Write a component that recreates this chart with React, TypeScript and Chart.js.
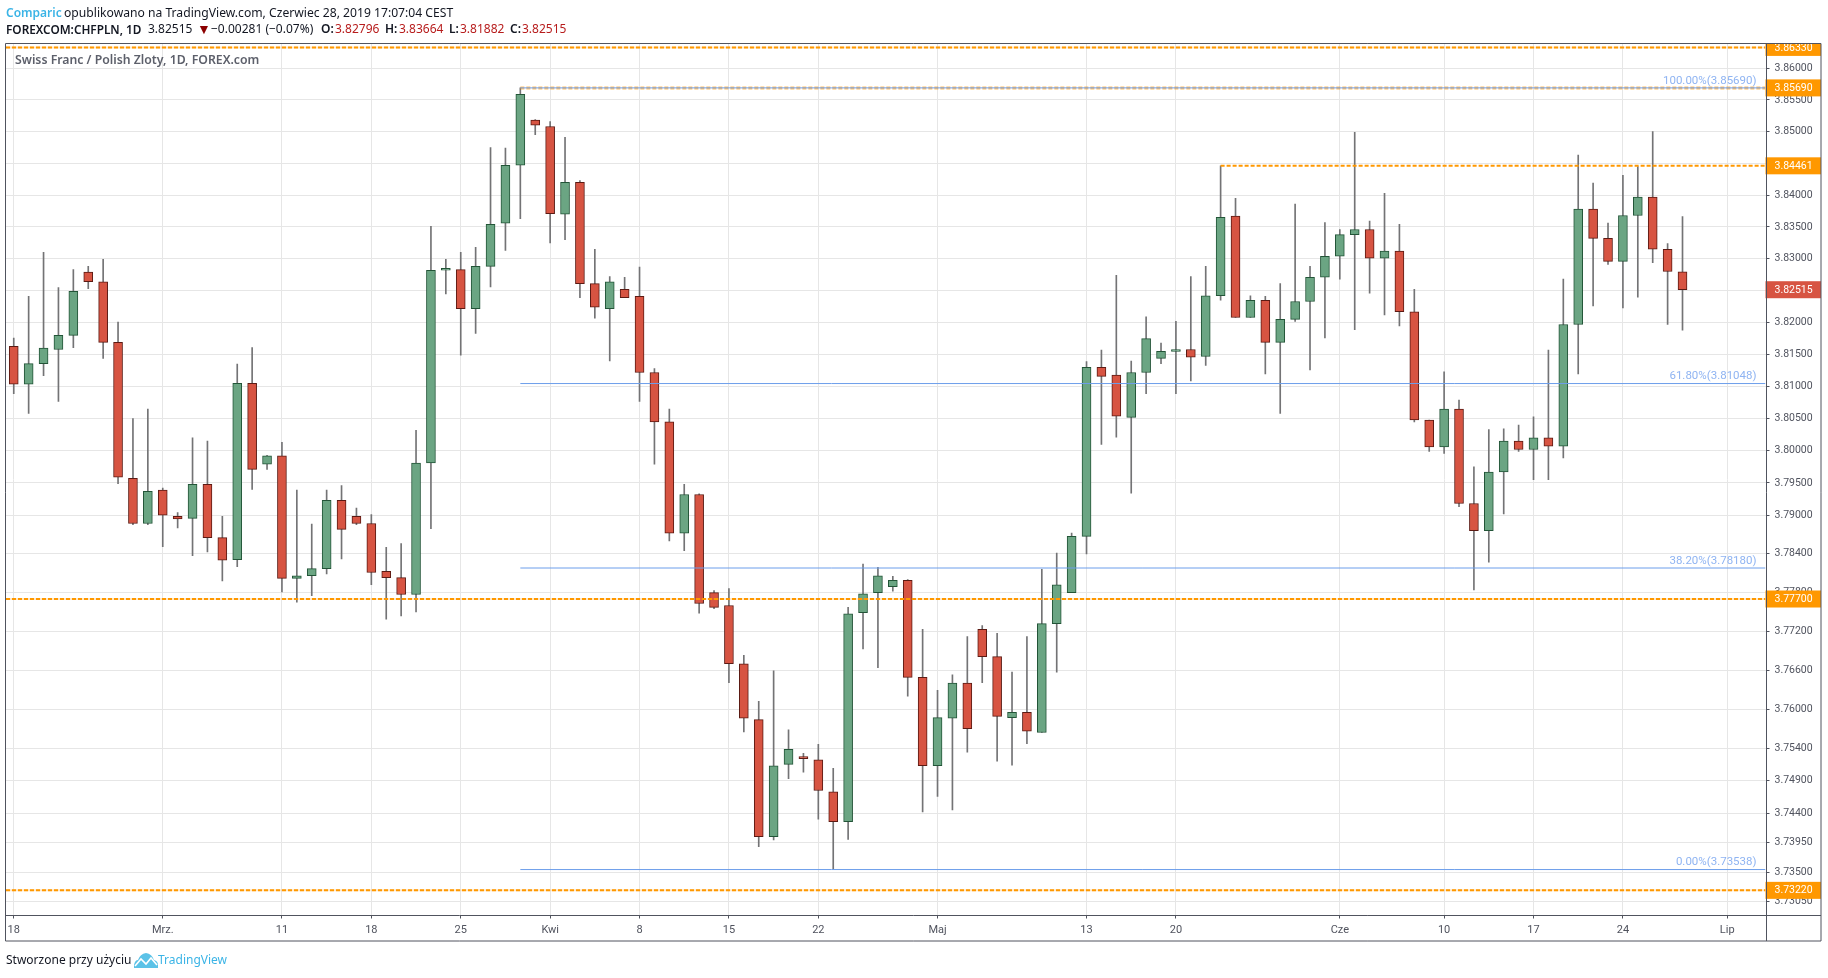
import React, { useEffect, useRef } from "react";
import { Chart, registerables } from "chart.js";

Chart.register(...registerables);

const opens = [3.8163,3.8104,3.8136,3.8158,3.8180,3.8279,3.8264,3.8169,3.7957,3.7887,3.7939,3.7898,3.7895,3.7948,3.7865,3.7831,3.8105,3.7979,3.7992,3.7802,3.7806,3.7817,3.7923,3.7898,3.7887,3.7813,3.7803,3.7777,3.7981,3.8282,3.8283,3.8222,3.8288,3.8356,3.8447,3.8518,3.8508,3.8370,3.8420,3.8261,3.8222,3.8252,3.8241,3.8122,3.8045,3.7872,3.7932,3.7780,3.7760,3.7670,3.7584,3.7404,3.7515,3.7527,3.7522,3.7473,3.7427,3.7749,3.7780,3.7789,3.7799,3.7649,3.7513,3.7586,3.7640,3.7723,3.7681,3.7587,3.7595,3.7564,3.7732,3.7780,3.7867,3.8130,3.8118,3.8052,3.8122,3.8144,3.8155,3.8158,3.8147,3.8242,3.8367,3.8208,3.8235,3.8169,3.8205,3.8233,3.8271,3.8304,3.8338,3.8346,3.8301,3.8312,3.8217,3.8048,3.8006,3.8065,3.7918,3.7876,3.7967,3.8015,3.8002,3.8020,3.8007,3.8197,3.8378,3.8332,3.8296,3.8368,3.8397,3.8315,3.82796];
const highs = [3.8176,3.8241,3.8310,3.8255,3.8283,3.8288,3.8299,3.8201,3.8050,3.8065,3.7942,3.7904,3.8020,3.8015,3.7898,3.8135,3.8161,3.7993,3.8013,3.7939,3.7886,3.7939,3.7946,3.7911,3.7901,3.7850,3.7856,3.8032,3.8351,3.8299,3.8310,3.8318,3.8475,3.8474,3.8569,3.8519,3.8516,3.8491,3.8423,3.8315,3.8272,3.8271,3.8287,3.8128,3.8065,3.7948,3.7933,3.7783,3.7786,3.7683,3.7612,3.7659,3.7568,3.7532,3.7546,3.7509,3.7757,3.7824,3.7819,3.7805,3.7800,3.7723,3.7629,3.7653,3.7712,3.7729,3.7717,3.7657,3.7712,3.7816,3.7841,3.7872,3.8139,3.8157,3.8274,3.8140,3.8209,3.8168,3.8202,3.8272,3.8288,3.84461,3.8395,3.8242,3.8241,3.8261,3.8386,3.8288,3.8357,3.8346,3.8499,3.8359,3.8403,3.8354,3.8252,3.8048,3.8123,3.8079,3.7975,3.8033,3.8034,3.8040,3.8053,3.8157,3.8268,3.8463,3.8419,3.8356,3.8431,3.8445,3.8500,3.8324,3.83664];
const lows = [3.8089,3.8058,3.8117,3.8077,3.8161,3.8253,3.8144,3.7949,3.7885,3.7885,3.7851,3.7880,3.7837,3.7843,3.7798,3.7820,3.7940,3.7971,3.7781,3.7765,3.7775,3.7809,3.7832,3.7885,3.7792,3.7739,3.7744,3.7750,3.7879,3.8245,3.8149,3.8183,3.8256,3.8313,3.8363,3.8495,3.8325,3.8330,3.8239,3.8207,3.8140,3.8239,3.8077,3.7979,3.7860,3.7845,3.7748,3.7755,3.7641,3.7565,3.7389,3.7399,3.7493,3.7503,3.7431,3.73538,3.7400,3.7693,3.7664,3.7782,3.7620,3.7442,3.7466,3.7445,3.7534,3.7641,3.7520,3.7514,3.7547,3.7564,3.7657,3.7780,3.7840,3.8010,3.8021,3.7934,3.8089,3.8136,3.8089,3.8109,3.8133,3.8235,3.8208,3.8208,3.8120,3.8058,3.8202,3.8126,3.8176,3.8268,3.8189,3.8246,3.8212,3.8195,3.8045,3.7999,3.7996,3.7913,3.7784,3.7827,3.7902,3.7999,3.7955,3.7955,3.7989,3.8120,3.8226,3.8291,3.8223,3.8240,3.8294,3.8197,3.81882];
const closes = [3.8104,3.8136,3.8160,3.8180,3.8249,3.8264,3.8169,3.7959,3.7887,3.7937,3.7900,3.7894,3.7948,3.7865,3.7830,3.8105,3.7971,3.7992,3.7802,3.7806,3.7817,3.7923,3.7878,3.7887,3.7811,3.7803,3.7777,3.7981,3.8282,3.8285,3.8222,3.8288,3.8354,3.8447,3.8559,3.8510,3.8371,3.8420,3.8261,3.8224,3.8264,3.8239,3.8122,3.8045,3.7872,3.7932,3.7763,3.7757,3.7670,3.7586,3.7404,3.7513,3.7538,3.7524,3.7475,3.7427,3.7747,3.7778,3.7806,3.7799,3.7649,3.7513,3.7587,3.7640,3.7570,3.7681,3.7589,3.7595,3.7566,3.7732,3.7792,3.7867,3.8130,3.8116,3.8054,3.8122,3.8175,3.8155,3.8158,3.8146,3.8242,3.8365,3.8208,3.8235,3.8169,3.8205,3.8233,3.8271,3.8304,3.8338,3.8346,3.8301,3.8312,3.8217,3.8048,3.8006,3.8065,3.7918,3.7876,3.7967,3.8015,3.8002,3.8020,3.8007,3.8197,3.8378,3.8332,3.8296,3.8368,3.8397,3.8315,3.8280,3.82515];

const xTickBars = [0, 10, 18, 24, 30, 36, 42, 48, 54, 62, 72, 78, 89, 96, 102, 108, 115];
const xTickLabels = ["18", "Mrz.", "11", "18", "25", "Kwi", "8", "15", "22", "Maj", "13", "20", "Cze", "10", "17", "24", "Lip"];
const priceTicks = [3.86, 3.855, 3.85, 3.845, 3.84, 3.835, 3.83, 3.825, 3.82, 3.815, 3.81, 3.805, 3.8, 3.795, 3.79, 3.784, 3.778, 3.772, 3.766, 3.76, 3.754, 3.749, 3.744, 3.7395, 3.735, 3.7305];

const fibLevels = [3.8569, 3.81048, 3.7818, 3.73538];
const fibLabels = ["100.00%(3.85690)", "61.80%(3.81048)", "38.20%(3.78180)", "0.00%(3.73538)"];
const fibStartBar = 34;
const fullLevels = [3.8633, 3.777, 3.7322];
const partialLevels = [3.8569, 3.84461];
const partialStartBars = [34, 81];
const lastPrice = 3.82515;

const X_MIN = -0.52;
const X_MAX = 117.57;
const Y_MIN = 3.72851;
const Y_MAX = 3.86384;

const UP = "#6ba583";
const UP_BORDER = "#225437";
const DOWN = "#d75442";
const DOWN_BORDER = "#5b1a13";
const WICK = "#737375";
const FRAME = "#50535e";
const ORANGE = "#ff9800";
const BLUE = "#6d9eeb";
const AXIS_FONT = "Roboto";
const TEXT_FONT = "'Noto Sans'";

const bars = closes.map((c, i) => ({ i, o: opens[i], h: highs[i], l: lows[i], c }));
const upBars = bars.filter((b) => b.c >= b.o);
const downBars = bars.filter((b) => b.c < b.o);

const overlay = {
  id: "overlay",
  afterDraw(chart: any) {
    const { ctx, chartArea: a, scales } = chart;
    const y = scales.y;
    const outerRight = 1821;
    const outerBottom = 941;
    ctx.save();
    ctx.font = `11.5px ${AXIS_FONT}`;
    ctx.textAlign = "right";
    ctx.textBaseline = "middle";
    ctx.fillStyle = "#8fb4f2";
    fibLevels.forEach((v, i) => {
      ctx.fillText(fibLabels[i], a.right - 9, y.getPixelForValue(v) - 7);
    });
    ctx.beginPath();
    ctx.rect(a.left, a.top, outerRight - a.left, a.bottom - a.top);
    ctx.clip();
    const badges = [
      ...fullLevels.map((v) => ({ v, c: ORANGE })),
      ...partialLevels.map((v) => ({ v, c: ORANGE })),
      { v: lastPrice, c: DOWN },
    ];
    ctx.font = `10.5px ${AXIS_FONT}`;
    ctx.textAlign = "left";
    badges.forEach((b) => {
      const py = y.getPixelForValue(b.v);
      ctx.fillStyle = b.c;
      ctx.fillRect(a.right, py - 8.5, outerRight - a.right, 17);
      ctx.fillStyle = "#ffffff";
      ctx.fillText(b.v.toFixed(5), a.right + 9, py + 0.5);
    });
    ctx.restore();
    ctx.save();
    ctx.strokeStyle = FRAME;
    ctx.lineWidth = 1;
    ctx.beginPath();
    ctx.rect(5.5, 43.5, outerRight - 5.5, outerBottom - 43.5);
    ctx.moveTo(Math.round(a.right) + 0.5, 43.5);
    ctx.lineTo(Math.round(a.right) + 0.5, outerBottom);
    ctx.moveTo(5.5, Math.round(a.bottom) + 0.5);
    ctx.lineTo(outerRight, Math.round(a.bottom) + 0.5);
    ctx.stroke();
    ctx.restore();
  },
};

function lineSet(points: any[], color: string, dash: number[], width: number, order: number) {
  return {
    type: "line",
    data: points,
    borderColor: color,
    borderWidth: width,
    borderDash: dash,
    pointRadius: 0,
    fill: false,
    tension: 0,
    order,
  };
}

function App() {
  const ref = useRef<HTMLCanvasElement>(null);
  useEffect(() => {
    document.body.style.margin = "0";
    const chart = new Chart(ref.current as HTMLCanvasElement, {
      type: "bar",
      data: {
        datasets: [
          {
            data: bars.map((b) => ({ x: b.i, y: [b.l, b.h] })),
            backgroundColor: WICK,
            barThickness: 1,
            grouped: false,
            order: 5,
          },
          {
            data: upBars.map((b) => ({ x: b.i, y: [b.o, b.c] })),
            backgroundColor: UP,
            borderColor: UP_BORDER,
            borderWidth: 1,
            borderSkipped: false,
            barThickness: 9,
            grouped: false,
            order: 4,
          },
          {
            data: downBars.map((b) => ({ x: b.i, y: [b.c, b.o] })),
            backgroundColor: DOWN,
            borderColor: DOWN_BORDER,
            borderWidth: 1,
            borderSkipped: false,
            barThickness: 9,
            grouped: false,
            order: 4,
          },
          ...fullLevels.map((v) =>
            lineSet([{ x: X_MIN, y: v }, { x: X_MAX, y: v }], "rgba(255,152,0,0.22)", [], 2, 3)
          ),
          ...fullLevels.map((v) =>
            lineSet([{ x: X_MIN, y: v }, { x: X_MAX, y: v }], ORANGE, [4, 2], 2, 2)
          ),
          ...partialLevels.map((v, i) =>
            lineSet(
              [{ x: partialStartBars[i], y: v }, { x: X_MAX, y: v }],
              i === 0 ? "rgba(255,152,0,0.6)" : ORANGE,
              [4, 2],
              i === 0 ? 3 : 2,
              2
            )
          ),
          ...fibLevels.map((v) =>
            lineSet([{ x: fibStartBar, y: v }, { x: X_MAX, y: v }], BLUE, [], 1, 1)
          ),
        ] as any,
      },
      options: {
        animation: false,
        responsive: false,
        devicePixelRatio: 1,
        layout: { padding: { left: 6, right: 7, top: 44, bottom: 37 } },
        plugins: { legend: { display: false }, tooltip: { enabled: false }, title: { display: false } },
        scales: {
          x: {
            type: "linear",
            min: X_MIN,
            max: X_MAX,
            bounds: "data",
            offset: false,
            grid: { offset: false, color: "#e6e6e6", tickColor: FRAME, tickLength: 4, drawOnChartArea: true },
            border: { display: false },
            afterBuildTicks: (s: any) => {
              s.ticks = xTickBars.map((v) => ({ value: v }));
            },
            afterFit: (s: any) => {
              s.height = 26.5;
            },
            ticks: {
              autoSkip: false,
              maxRotation: 0,
              padding: 5,
              color: "#50535e",
              font: { family: AXIS_FONT, size: 11 },
              callback: (v: any) => xTickLabels[xTickBars.indexOf(v)] ?? "",
            },
          },
          y: {
            type: "logarithmic",
            position: "right",
            min: Y_MIN,
            max: Y_MAX,
            bounds: "data",
            grid: { color: "#e6e6e6", tickColor: FRAME, tickLength: 4 },
            border: { display: false },
            afterBuildTicks: (s: any) => {
              s.ticks = priceTicks.map((v) => ({ value: v }));
            },
            afterFit: (s: any) => {
              s.width = 55.5;
            },
            ticks: {
              autoSkip: false,
              padding: 5,
              color: "#50535e",
              font: { family: AXIS_FONT, size: 10.5 },
              callback: (v: any) => Number(v).toFixed(5),
            },
          },
        },
      } as any,
      plugins: [overlay],
    });
    return () => chart.destroy();
  }, []);

  const seg = (left: number, top: number, text: string, extra: any = {}) => (
    <span style={{ position: "absolute", left, top, whiteSpace: "nowrap", lineHeight: "16px", ...extra }}>{text}</span>
  );
  const red = { color: "#b71c1c" };
  const blue = { color: "#3bb4e6" };

  return (
    <div
      style={{
        position: "absolute",
        left: 0,
        top: 0,
        width: 1828,
        height: 978,
        overflow: "hidden",
        background: "#fff",
        fontFamily: TEXT_FONT,
        fontSize: 12,
        color: "#131722",
      }}
    >
      <canvas ref={ref} width={1828} height={978} style={{ display: "block", position: "absolute", left: 0, top: 0 }} />
      {seg(6, 5, "Comparic", { ...blue, fontWeight: 600 })}
      {seg(64, 5, "opublikowano na TradingView.com, Czerwiec 28, 2019 17:07:04 CEST", { fontSize: 12.15 })}
      {seg(6, 21, "FOREXCOM:CHFPLN, 1D", { fontWeight: 600, fontSize: 11.8 })}
      {seg(148, 21, "3.82515")}
      {seg(197, 21, "▼", { color: "#8b0000", fontSize: 14 })}
      {seg(211, 21, "−0.00281 (−0.07%)")}
      {seg(321, 21, "O:", { fontWeight: 600 })}
      {seg(335, 21, "3.82796", red)}
      {seg(385, 21, "H:", { fontWeight: 600 })}
      {seg(399, 21, "3.83664", red)}
      {seg(449, 21, "L:", { fontWeight: 600 })}
      {seg(460, 21, "3.81882", red)}
      {seg(510, 21, "C:", { fontWeight: 600 })}
      {seg(522, 21, "3.82515", red)}
      {seg(15, 52, "Swiss Franc / Polish Zloty, 1D, FOREX.com", { color: "#5d606b", fontWeight: 600, fontSize: 12.25 })}
      {seg(6, 952, "Stworzone przy użyciu")}
      <svg style={{ position: "absolute", left: 134, top: 953 }} width="24" height="15" viewBox="0 0 24 15">
        <path d="M0 15 L0 12 Q1 7 4 7 Q6 1 12 0 Q18 1 20 7 Q24 8 24 12 L24 15 Z" fill="#5bc2e7" />
        <path d="M1 13 L7 6 L12 11 L17 5 L23 12" fill="none" stroke="#fff" strokeWidth="1.6" />
      </svg>
      {seg(158, 952, "TradingView", blue)}
    </div>
  );
}

export default App;
